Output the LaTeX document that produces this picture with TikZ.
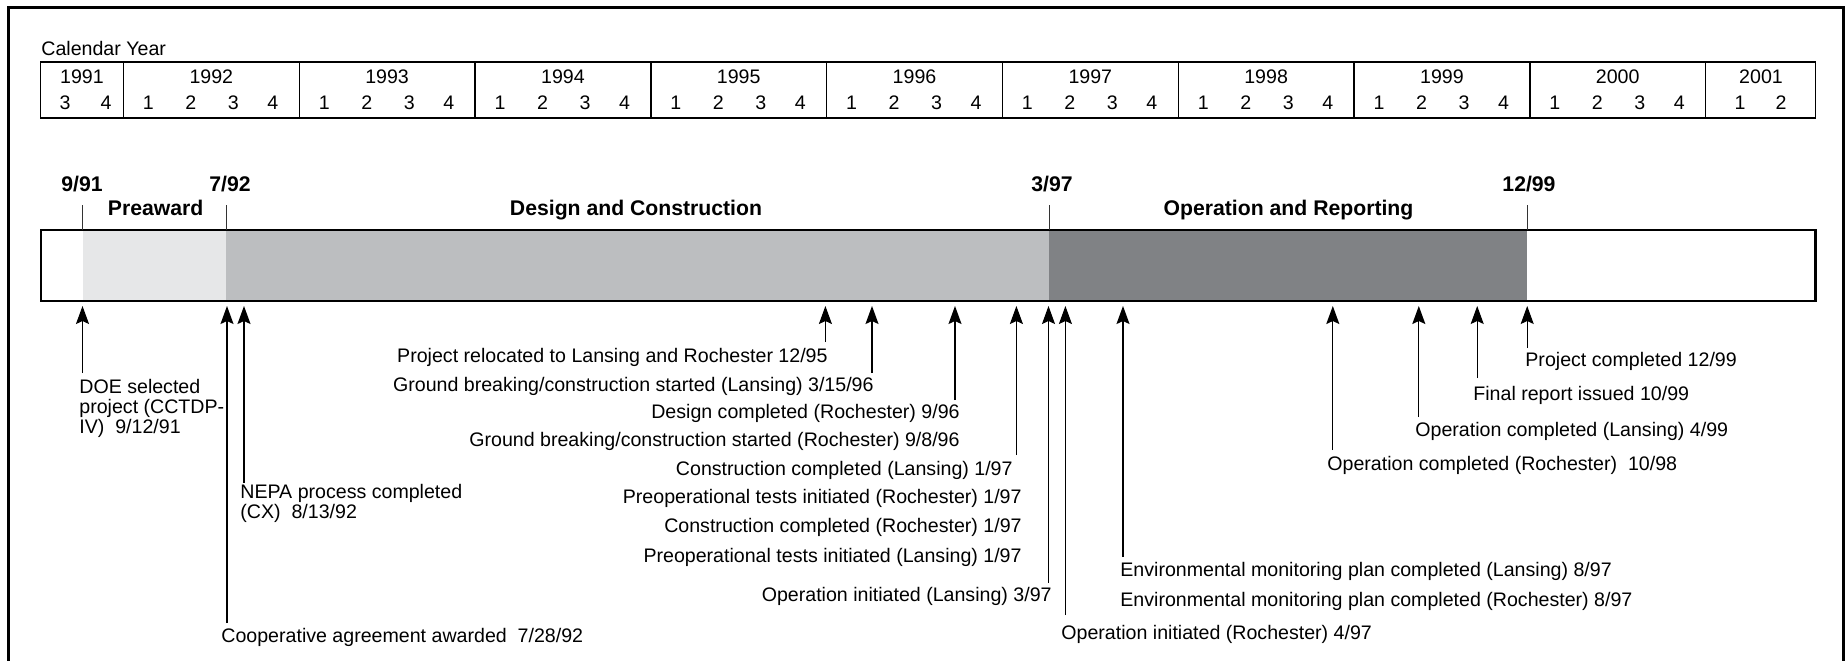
\documentclass[tikz,border=0pt]{standalone}
\usepackage{fontspec}
\setmainfont{Liberation Sans}
\usetikzlibrary{arrows.meta}
\tikzset{>={Stealth[length=9pt,width=6.5pt,inset=1.5pt]}}
\definecolor{precol}{HTML}{E6E7E8}
\definecolor{descol}{HTML}{BCBEC0}
\definecolor{opcol}{HTML}{808285}
\tikzstyle{txt}=[inner sep=0pt,font=\fontsize{9.8}{10}\selectfont]
\tikzstyle{ltxt}=[txt,anchor=base west]
\tikzstyle{rtxt}=[txt,anchor=base east]
\tikzstyle{phase}=[inner sep=0pt,anchor=base,font=\fontsize{10.6}{12}\selectfont\bfseries]
\tikzstyle{mline}=[->,line width=0.6pt]
\tikzstyle{tick}=[line width=0.5pt,black!80]
\def\yw{175.8} % width of one year
\def\yo{123.4} % start of 1992

\begin{document}
\begin{tikzpicture}[x=0.5pt,y=-0.5pt]
  \useasboundingbox (0,0) rectangle (1847,660);

  % FRAME
  \draw[line width=1.5pt] (8,680) -- (8,7) -- (1843,7) -- (1843,680);

  % CALENDAR
  \node[ltxt] (cal) at (41,55) {Calendar Year};
  \draw[line width=0.7pt] (40.7,62) rectangle (1815.5,118);
  \foreach \k in {0,...,9}
    \draw[line width=0.7pt] ({\yo+\k*\yw},62) -- ({\yo+\k*\yw},118);
  \node[txt,anchor=base] (y1991) at (82,83) {1991};
  \node[txt,anchor=base] (q1991c) at (65,109) {3};
  \node[txt,anchor=base] (q1991d) at (106,109) {4};
  \foreach \k in {0,...,8}{
    \pgfmathsetmacro\b{\yo+\k*\yw}
    \node[txt,anchor=base] (y\k) at ({\b+0.5*\yw},83) {\the\numexpr1992+\k\relax};
    \foreach \q/\dx in {1/25,2/67.5,3/110,4/149.5}
      \node[txt,anchor=base] (q\k\q) at ({\b+\dx},109) {\q};
  }
  \node[txt,anchor=base] (y2001) at (1761,83) {2001};
  \node[txt,anchor=base] (q2001a) at (1740,109) {1};
  \node[txt,anchor=base] (q2001b) at (1781,109) {2};

  % PHASES
  \fill[precol] (82.5,230) rectangle (226,301);
  \fill[descol] (226,230) rectangle (1049,301);
  \fill[opcol] (1049,230) rectangle (1527,301);
  \draw[line width=1.2pt] (40.7,230) rectangle (1815.5,301);
  \draw[tick] (82.5,205) -- (82.5,230);
  \draw[tick] (226,205) -- (226,230);
  \draw[tick] (1049,205) -- (1049,230);
  \draw[tick] (1527,205) -- (1527,230);
  \node[phase] (d9191) at (82,191.5) {9/91};
  \node[phase] (d0792) at (230,191.5) {7/92};
  \node[phase] (d0397) at (1052,191.5) {3/97};
  \node[phase] (d1299) at (1529,191.5) {12/99};
  \node[phase] (pre) at (155.6,215) {Preaward};
  \node[phase] (des) at (636,215) {Design and Construction};
  \node[phase] (oper) at (1288.5,215) {Operation and Reporting};

  % MILESTONES
  \coordinate (bar) at (0,306);
  \foreach \n/\x/\y in {doe/82.5/373, coop/227/623, nepa/244/483,
      reloc/825.4/342, gbl/872/373, desr/955/400, conl/1016.4/455,
      opl/1048.5/583, opr/1065.4/615, envm/1123/557, ocr/1332.8/450,
      ocl/1418.8/417, frep/1477.2/378, pcomp/1527.2/348}{
    \coordinate (\n) at (\x,\y);
    \draw[mline] (\n) -- (\n |- bar);
  }
  \node[txt,anchor=north west,align=left] (ldoe) at (79,379)
    {DOE selected\\project (CCTDP-\\IV)\ \ 9/12/91};
  \node[txt,anchor=north west,align=left] (lnepa) at (240,484)
    {NEPA process completed\\(CX)\ \ 8/13/92};
  \node[ltxt] (lcoop) at (221,642) {Cooperative agreement awarded\ \ 7/28/92};
  \node[rtxt] (lreloc) at (828,362) {Project relocated to Lansing and Rochester 12/95};
  \node[rtxt] (lgbl) at (874,391) {Ground breaking/construction started (Lansing) 3/15/96};
  \node[rtxt] (ldesr) at (960,418) {Design completed (Rochester) 9/96};
  \node[rtxt] (lgbr) at (960,446) {Ground breaking/construction started (Rochester) 9/8/96};
  \node[rtxt] (lconl) at (1013,475) {Construction completed (Lansing) 1/97};
  \node[rtxt] (lprer) at (1022,503) {Preoperational tests initiated (Rochester) 1/97};
  \node[rtxt] (lconr) at (1022,532) {Construction completed (Rochester) 1/97};
  \node[rtxt] (lprel) at (1022,562) {Preoperational tests initiated (Lansing) 1/97};
  \node[rtxt] (lopl) at (1052,601) {Operation initiated (Lansing) 3/97};
  \node[ltxt] (lopr) at (1061,639) {Operation initiated (Rochester) 4/97};
  \node[ltxt] (lenvl) at (1120,576) {Environmental monitoring plan completed (Lansing) 8/97};
  \node[ltxt] (lenvr) at (1120,606) {Environmental monitoring plan completed (Rochester) 8/97};
  \node[ltxt] (locr) at (1327,470) {Operation completed (Rochester)\ \ 10/98};
  \node[ltxt] (locl) at (1415,436) {Operation completed (Lansing) 4/99};
  \node[ltxt] (lfrep) at (1473,400) {Final report issued 10/99};
  \node[ltxt] (lpcomp) at (1525,366) {Project completed 12/99};

\end{tikzpicture}
\end{document}
